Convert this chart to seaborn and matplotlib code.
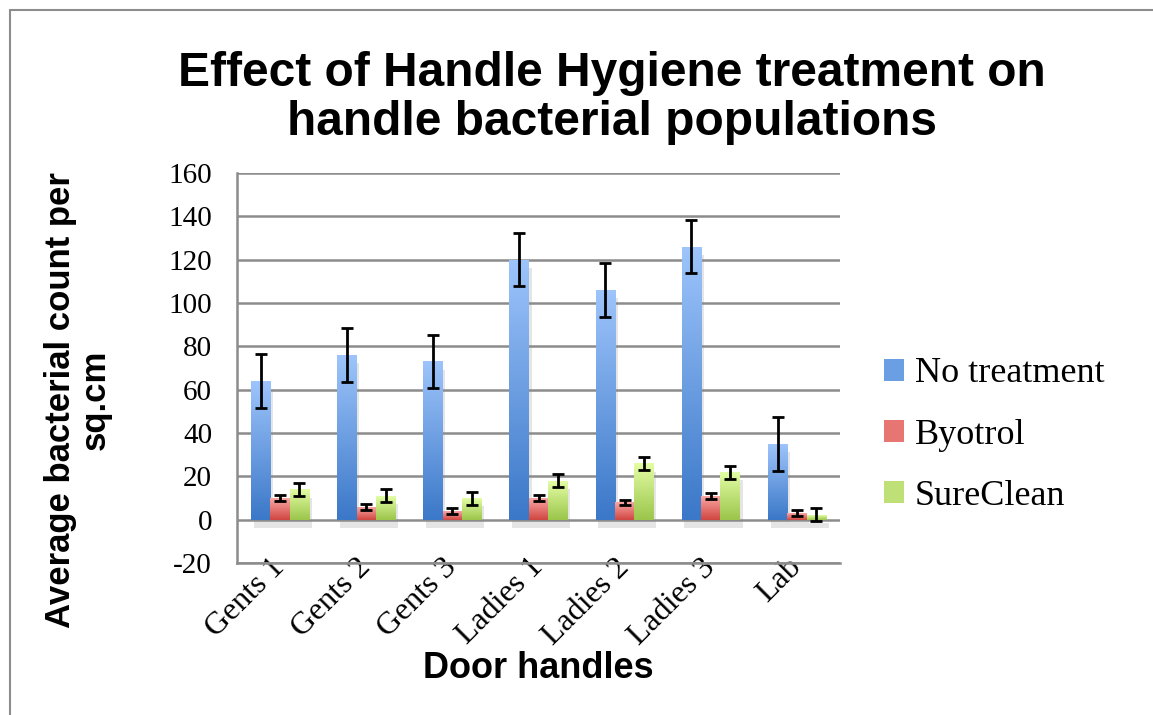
import numpy as np
import pandas as pd
import matplotlib
matplotlib.use("Agg")
import matplotlib.pyplot as plt
import matplotlib.patheffects as pe
from matplotlib.lines import Line2D
from matplotlib.patches import Patch
import seaborn as sns

# data
handles = ['Gents 1', 'Gents 2', 'Gents 3', 'Ladies 1', 'Ladies 2', 'Ladies 3', 'Lab']
treatments = ['No treatment', 'Byotrol', 'SureClean']
no_treatment = [64, 76, 73, 120, 106, 126, 35]
byotrol = [10, 6, 4, 10, 8, 11, 3]
sureclean = [14, 11, 10, 18, 26, 22, 2.2]
no_treatment_err = [12.5, 12.4, 12.3, 12.2, 12.5, 12.2, 12.5]
byotrol_err = [1.3, 1.4, 1.3, 1.3, 1.2, 1.4, 1.3]
sureclean_err = [3.0, 3.0, 3.0, 3.0, 3.0, 3.0, 3.0]

# gradient top / bottom colours per series
top_cols = ['#9dc4fb', '#f9a6a3', '#e3fda4']
bot_cols = ['#3b78c8', '#d04641', '#9bc54b']
mid_cols = ['#6a9fe3', '#e77672', '#bfe077']

df = pd.DataFrame({
    'handle': handles * 3,
    'treatment': sum([[t] * len(handles) for t in treatments], []),
    'count': no_treatment + byotrol + sureclean,
})
errs = [no_treatment_err, byotrol_err, sureclean_err]

sns.set_style('white')
plt.rcParams['font.family'] = ['Liberation Serif', 'DejaVu Serif']
plt.rcParams['text.color'] = 'black'
plt.rcParams['xtick.color'] = 'black'
plt.rcParams['ytick.color'] = 'black'
plt.rcParams['axes.unicode_minus'] = False

fig = plt.figure(figsize=(11.53, 7.15), dpi=100)
ax = fig.add_axes([237 / 1153, 1 - 563 / 715, (840 - 237) / 1153, (563 - 173) / 715])

sns.barplot(data=df, x='handle', y='count', hue='treatment', palette=mid_cols,
            width=0.675, errorbar=None, ax=ax, legend=False, zorder=2)

ax.set_ylim(-20, 160)
ax.set_yticks(range(-20, 161, 20))
ax.yaxis.grid(True, color='#8c8c8c', linewidth=1.8)
ax.set_axisbelow(True)
for s in ['top', 'right']:
    ax.spines[s].set_visible(False)
for s in ['left', 'bottom']:
    ax.spines[s].set_color('#8c8c8c')
    ax.spines[s].set_linewidth(1.8)
ax.tick_params(axis='y', length=0, labelsize=21, pad=18)
ax.tick_params(axis='x', length=0, labelsize=23, pad=0)
ax.set_xlabel('')
ax.set_ylabel('')
plt.setp(ax.get_xticklabels(), rotation=45, ha='right', va='center', rotation_mode='anchor')

# gradient fills, shadows and error bars on the seaborn bars
bar_conts = list(ax.containers)
for k, cont in enumerate(bar_conts):
    grad = np.linspace(matplotlib.colors.to_rgb(top_cols[k]),
                       matplotlib.colors.to_rgb(bot_cols[k]), 64).reshape(64, 1, 3)
    xs, ys = [], []
    for bar in cont.patches:
        x0, y0 = bar.get_x(), bar.get_y()
        w, h = bar.get_width(), bar.get_height()
        bar.set_path_effects([pe.SimplePatchShadow(offset=(2, -6), shadow_rgbFace='#8a8a8a', alpha=0.22),
                              pe.Normal()])
        bar.set_edgecolor('none')
        ax.imshow(grad, extent=(x0, x0 + w, y0, y0 + h), aspect='auto', zorder=3,
                  interpolation='bilinear')
        xs.append(x0 + w / 2)
        ys.append(y0 + h)
    ax.errorbar(xs, ys, yerr=errs[k], fmt='none', ecolor='black', elinewidth=2,
                capsize=4.5, capthick=2, zorder=4)

ax.set_xlim(-0.5, len(handles) - 0.5)
ax.set_ylim(-20, 160)

# legend
leg_handles = [Patch(facecolor=c, edgecolor='none') for c in mid_cols]
fig.legend(leg_handles, treatments, loc='center left', bbox_to_anchor=(884 / 1153, 1 - 435 / 715),
           frameon=False, fontsize=26, handlelength=0.56, handleheight=0.56,
           handletextpad=0.3, labelspacing=0.78, borderpad=0, borderaxespad=0)

# titles
fig.text(612 / 1153, 1 - 98 / 715, 'Effect of Handle Hygiene treatment on\nhandle bacterial populations',
         ha='center', va='center', fontsize=34.5, fontweight='bold', family='Liberation Sans',
         linespacing=1.1)
fig.text(78 / 1153, 1 - 400 / 715, 'Average bacterial count per\nsq.cm', rotation=90,
         ha='center', va='center', fontsize=25, fontweight='bold', family='Liberation Sans',
         multialignment='center', linespacing=1.05)
fig.text(538 / 1153, 1 - 668 / 715, 'Door handles', ha='center', va='center',
         fontsize=26, fontweight='bold', family='Liberation Sans')

# chart area border (left and top edges)
fig.add_artist(Line2D([10 / 1153, 10 / 1153], [0, 1 - 10 / 715], transform=fig.transFigure,
                      color='#8c8c8c', linewidth=1.5))
fig.add_artist(Line2D([10 / 1153, 1], [1 - 10 / 715, 1 - 10 / 715], transform=fig.transFigure,
                      color='#8c8c8c', linewidth=1.5))

fig.savefig('out.png', dpi=100)
